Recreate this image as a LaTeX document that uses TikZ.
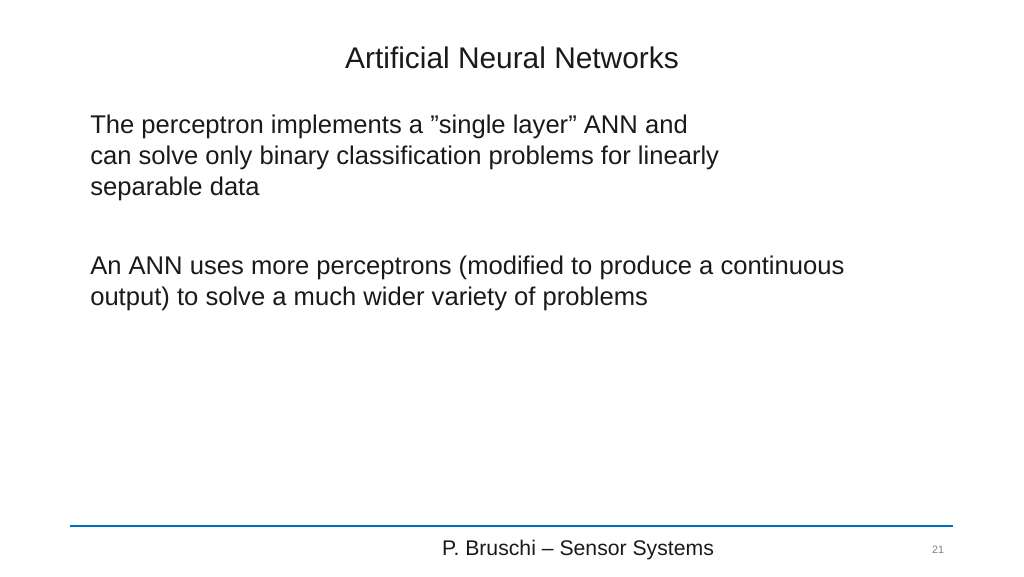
\documentclass[tikz,border=0pt]{standalone}
\usepackage{fontspec}
\defaultfontfeatures{}
\setmainfont{Liberation Sans}
\usetikzlibrary{positioning}
\definecolor{rule}{RGB}{0,112,192}
\definecolor{txt}{RGB}{26,26,26}

\begin{document}
\begin{tikzpicture}
    [x=0.75pt, y=-0.75pt,
    title/.style={font=\fontsize{22.4}{26}\selectfont, text=txt, inner sep=0pt},
    body/.style={font=\fontsize{19.2}{23.2}\selectfont, text=txt, align=left, anchor=north west, inner sep=0pt},
    foot/.style={font=\fontsize{15.9}{18}\selectfont, text=txt, inner sep=0pt}]
    \useasboundingbox[fill=white] (0,0) rectangle (1024,576);
    \node[title] (T) at (512, 58) {Artificial Neural Networks};
    \node[body]  (P1) at (90, 115) {The perceptron implements a "single layer" ANN and\\
        can solve only binary classification problems for linearly\\
        separable data};
    \node[body]  (P2) at (90, 256) {An ANN uses more perceptrons (modified to produce a continuous\\
        output) to solve a much wider variety of problems};
    \coordinate (RL) at (70, 526);
    \coordinate (RR) at (953, 526);
    \draw[rule, line width=2.2pt] (RL) -- (RR);
    \node[foot] (F) at (578, 550) {P. Bruschi – Sensor Systems};
    \node[foot, font=\fontsize{8}{10}\selectfont, text=gray] (N) at (938, 550) {21};
\end{tikzpicture}
\end{document}
